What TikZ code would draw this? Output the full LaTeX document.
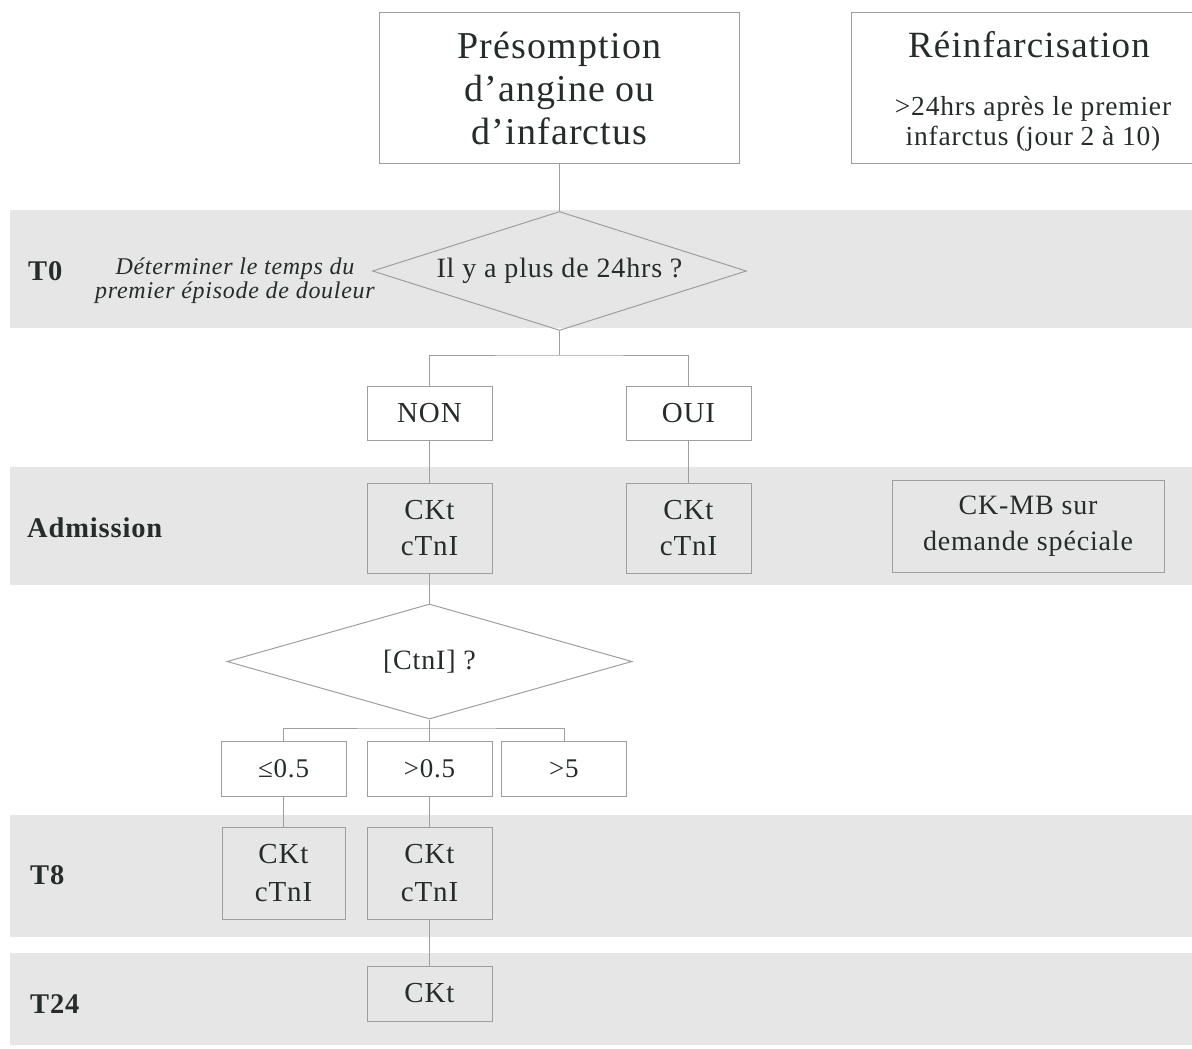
\documentclass[tikz,border=0pt]{standalone}
\usepackage{fontspec}
\setmainfont{Liberation Serif}[LetterSpace=3]
\usetikzlibrary{shapes.geometric}

\definecolor{bandgray}{RGB}{230,230,230}
\definecolor{inkgray}{RGB}{38,44,42}
\definecolor{edgegray}{RGB}{158,158,158}

\newcommand{\fsz}[2]{\fontsize{#1}{#2}\selectfont}

\tikzset{
  stagebox/.style={draw=edgegray, line width=1pt, rectangle, inner sep=0pt,
    align=center, text=inkgray},
  decision/.style={draw=edgegray, line width=1pt, diamond, inner sep=0pt,
    align=center, text=inkgray},
  stagelabel/.style={anchor=west, inner sep=0pt, text=inkgray,
    font=\fsz{28.5}{30}\bfseries},
  plaintext/.style={inner sep=0pt, align=center, text=inkgray},
  link/.style={draw=edgegray, line width=1pt},
}

\begin{document}
\begin{tikzpicture}[x=1pt, y=-1pt]
\useasboundingbox (0,0) rectangle (1192,1049);

% time bands
\fill[bandgray] (10,210) rectangle (1192,328);
\fill[bandgray] (10,467) rectangle (1192,585);
\fill[bandgray] (10,815) rectangle (1192,937);
\fill[bandgray] (10,953) rectangle (1192,1045);

% band labels
\node[stagelabel] (lT0) at (28,271) {T0};
\node[plaintext, font=\fsz{24}{24}\itshape] (lT0note) at (235,281)
  {Déterminer le temps du\\premier épisode de douleur};
\node[stagelabel] (lAdm) at (27,528) {Admission};
\node[stagelabel] (lT8) at (30,875) {T8};
\node[stagelabel] (lT24) at (30,1004) {T24};

% top boxes
\node[stagebox, minimum width=360, minimum height=150, font=\fsz{38}{43}]
  (pres) at (559.5,88) {Présomption\\d’angine ou\\d’infarctus};
\node[stagebox, minimum width=358, minimum height=150] (reinf) at (1030,88) {};
\node[plaintext, font=\fsz{37}{40}] (reinfT) at (1029,45) {Réinfarcisation};
\node[plaintext, font=\fsz{27.5}{30}] (reinfS) at (1033,124)
  {>24hrs après le premier\\infarctus (jour 2 à 10)};

% first decision
\node[decision, minimum width=374, minimum height=119, shape aspect=3.14,
  font=\fsz{28}{30}] (d1) at (559.5,271) {Il y a plus de 24hrs ?};

\node[stagebox, minimum width=125, minimum height=54, font=\fsz{29}{30}]
  (non) at (429.5,413) {NON};
\node[stagebox, minimum width=125, minimum height=54, font=\fsz{29}{30}]
  (oui) at (688.5,413) {OUI};

% admission
\node[stagebox, minimum width=125, minimum height=90, font=\fsz{29}{36}]
  (cka1) at (429.5,528) {CKt\\cTnI};
\node[stagebox, minimum width=125, minimum height=90, font=\fsz{29}{36}]
  (cka2) at (688.5,528) {CKt\\cTnI};
\node[stagebox, minimum width=272, minimum height=92, font=\fsz{28}{36}]
  (ckmb) at (1028,526.5) {CK-MB sur\\demande spéciale};

% second decision
\node[decision, minimum width=405, minimum height=115, shape aspect=3.5,
  font=\fsz{28}{30}] (d2) at (429.5,661.5) {[CtnI] ?};

\node[stagebox, minimum width=125, minimum height=55, font=\fsz{27}{30}]
  (le05) at (283.5,768.5) {≤0.5};
\node[stagebox, minimum width=125, minimum height=55, font=\fsz{27}{30}]
  (gt05) at (429.5,768.5) {>0.5};
\node[stagebox, minimum width=125, minimum height=55, font=\fsz{27}{30}]
  (gt5) at (564,768.5) {>5};

% T8
\node[stagebox, minimum width=123, minimum height=92, font=\fsz{29}{38}]
  (ck8a) at (283.5,873) {CKt\\cTnI};
\node[stagebox, minimum width=125, minimum height=92, font=\fsz{29}{38}]
  (ck8b) at (429.5,873) {CKt\\cTnI};

% T24
\node[stagebox, minimum width=125, minimum height=55, font=\fsz{29}{30}]
  (ck24) at (429.5,993.5) {CKt};

% connectors
\coordinate (fork1) at (559.5,355);
\coordinate (fork2) at (429.5,728);

\draw[link] (pres.south) -- (d1.north);
\draw[link] (d1.south) -- (fork1);
\draw[link] (non.north) |- (fork1) -| (oui.north);
\draw[link] (non.south) -- (cka1.north);
\draw[link] (oui.south) -- (cka2.north);
\draw[link] (cka1.south) -- (d2.north);
\draw[link] (d2.south) -- (fork2);
\draw[link] (le05.north) |- (fork2) -| (gt5.north);
\draw[link] (fork2) -- (gt05.north);
\draw[link] (le05.south) -- (ck8a.north);
\draw[link] (gt05.south) -- (ck8b.north);
\draw[link] (ck8b.south) -- (ck24.north);
\end{tikzpicture}
\end{document}
